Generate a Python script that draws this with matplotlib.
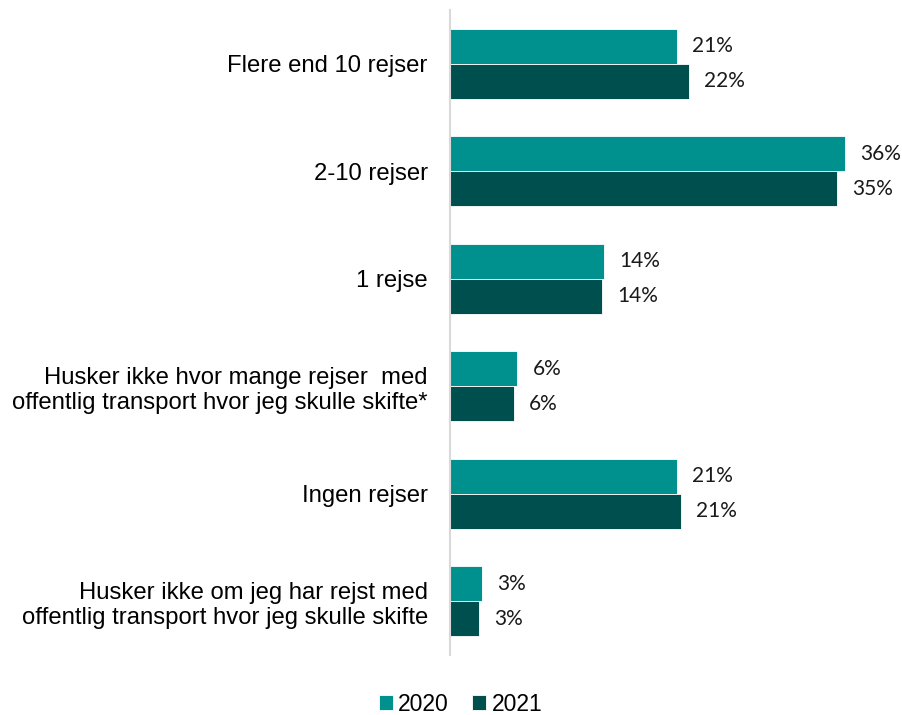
import matplotlib.pyplot as plt
import numpy as np

categories = [
    "Flere end 10 rejser",
    "2-10 rejser",
    "1 rejse",
    "Husker ikke hvor mange rejser  med\noffentlig transport hvor jeg skulle skifte*",
    "Ingen rejser",
    "Husker ikke om jeg har rejst med\noffentlig transport hvor jeg skulle skifte",
]
v2020 = [20.6, 35.9, 14.0, 6.1, 20.6, 2.9]
v2021 = [21.7, 35.2, 13.8, 5.8, 21.0, 2.6]
years = ["2020", "2021"]
colors = ["#00918f", "#004f4f"]

fig = plt.figure(figsize=(9.03, 7.15), dpi=100)
ax = fig.add_axes([450 / 903, 60 / 715, 440 / 903, 645 / 715])

y = np.arange(len(categories))
h = 0.325
b1 = ax.barh(y - h / 2, v2020, height=h, color=colors[0], label=years[0],
             edgecolor="white", linewidth=0.6)
b2 = ax.barh(y + h / 2, v2021, height=h, color=colors[1], label=years[1],
             edgecolor="white", linewidth=0.6)

for bars, vals in [(b1, v2020), (b2, v2021)]:
    for bar, v in zip(bars, vals):
        ax.text(v + 1.4, bar.get_y() + bar.get_height() / 2, f"{round(v):.0f}%",
                va="center", ha="left", fontsize=15, family="Lato",
                color="#1a1a1a")

ax.set_ylim(len(categories) - 0.5, -0.5)
ax.set_xlim(0, 40)
ax.set_yticks(y)
ax.set_yticklabels(categories, fontsize=17.2, family="Liberation Sans",
                   linespacing=1.22)
ax.tick_params(axis="y", length=0, pad=16)
ax.set_xticks([])
for s in ["top", "right", "bottom"]:
    ax.spines[s].set_visible(False)
ax.spines["left"].set_color("#d9d9d9")
ax.spines["left"].set_linewidth(1.5)

fig.legend(handles=[b1, b2], loc="lower center", bbox_to_anchor=(0.51, -0.03),
           ncol=2, frameon=False, prop={"family": "Liberation Sans", "size": 16.5},
           handlelength=0.6, handleheight=0.6, handletextpad=0.25, columnspacing=1.0)

fig.savefig("out.png", dpi=100)
